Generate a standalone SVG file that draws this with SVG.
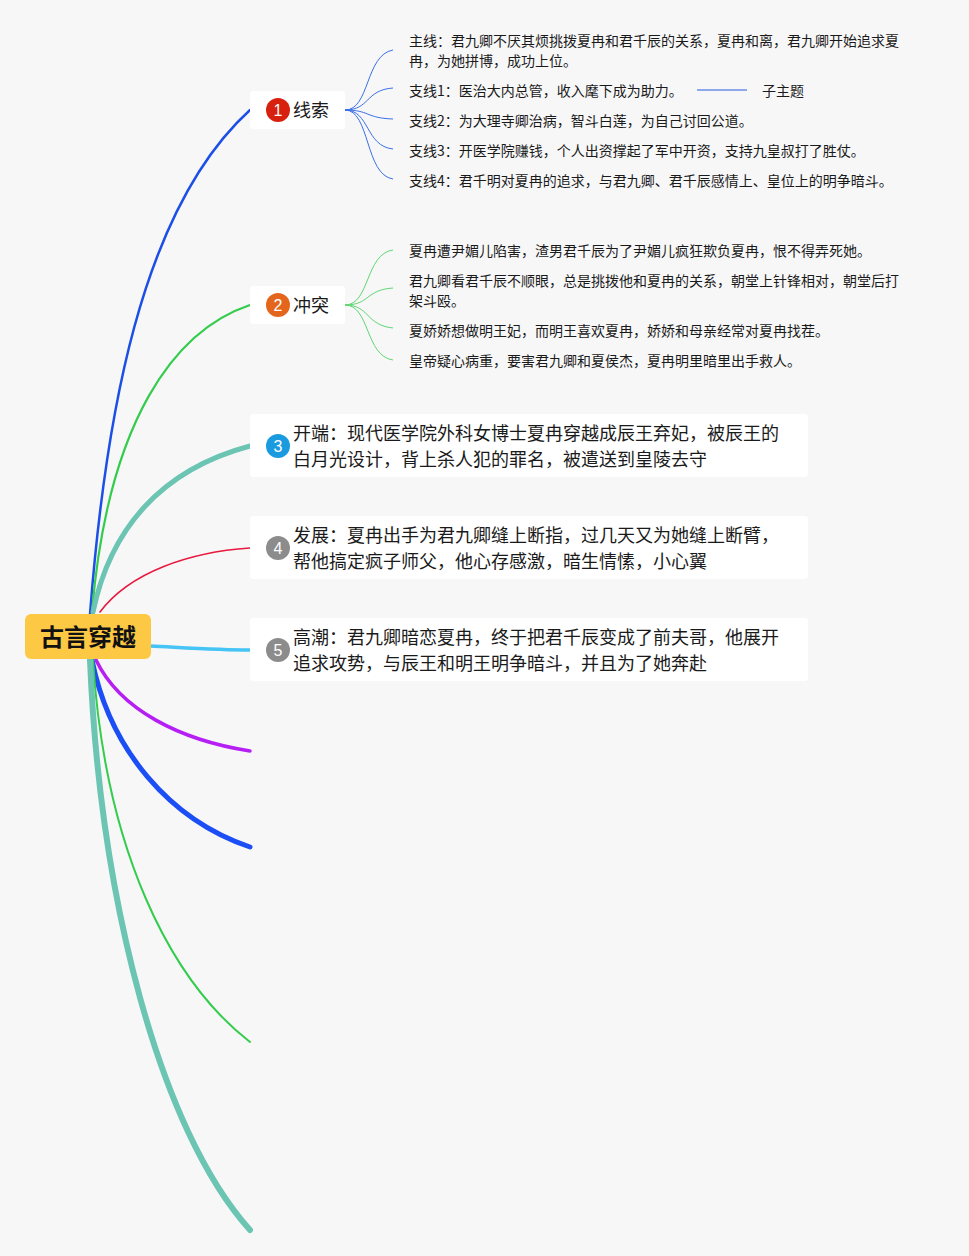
<svg xmlns="http://www.w3.org/2000/svg" width="969" height="1256" viewBox="0 0 969 1256">
<style>
text{font-family:"Noto Sans CJK SC","Liberation Sans",sans-serif;}
.box{fill:#ffffff;}
.t18{font-size:18px;fill:#1a1a1a;}
.t14{font-size:14px;fill:#1a1a1a;}
.num{font-size:16px;fill:#ffffff;text-anchor:middle;font-family:"Liberation Sans","Noto Sans",sans-serif;}
.c{fill:none;stroke-linecap:round;}
</style>
<rect x="0" y="0" width="969" height="1256" fill="#f7f7f8"/>
<g id="connectors">
<path class="c" d="M90 614 C105 420 140 210 250 110" stroke="#1c4fe6" stroke-width="2.5"/>
<path class="c" d="M92 612 C108 420 175 330 250 305" stroke="#33cc4c" stroke-width="2.2"/>
<path class="c" d="M93 612 C110 530 160 470 250 446" stroke="#6bc5b2" stroke-width="5"/>
<path class="c" d="M100 612 C130 572 190 552 250 548" stroke="#e8183e" stroke-width="1.6"/>
<path class="c" d="M150 646 C190 648 220 650 250 650" stroke="#45c4f5" stroke-width="3.5"/>
<path class="c" d="M96 660 C120 710 180 740 250 751" stroke="#b51ff4" stroke-width="3.5"/>
<path class="c" d="M92 660 C110 750 170 820 250 847" stroke="#1b4ef4" stroke-width="5"/>
<path class="c" d="M93 660 C105 850 170 980 250 1042" stroke="#33cc4c" stroke-width="2"/>
<path class="c" d="M90 660 C100 900 160 1130 250 1230" stroke="#6bc5b2" stroke-width="6"/>
<g stroke="#3b6fe6" stroke-width="1" fill="none">
<path d="M345 110 C370 110 365 55 393 50"/>
<path d="M345 110 C370 110 365 90 393 88"/>
<path d="M345 110 C370 110 365 118 393 119"/>
<path d="M345 110 C370 110 365 146 393 149"/>
<path d="M345 110 C370 110 365 175 393 179"/>
</g>
<line x1="697" y1="90" x2="747" y2="90" stroke="#6a8fe8" stroke-width="1.5"/>
<g stroke="#5fd672" stroke-width="1" fill="none">
<path d="M345 305 C370 305 365 254 393 250"/>
<path d="M345 305 C370 305 365 290 393 288"/>
<path d="M345 305 C370 305 365 325 393 328"/>
<path d="M345 305 C370 305 365 356 393 360"/>
</g>
</g>
<g id="root">
<rect x="25" y="614" width="126" height="45" rx="6" fill="#fdc844"/>
<text x="88" y="646" font-size="24" font-weight="bold" text-anchor="middle" fill="#111">古言穿越</text>
</g>
<g id="n1">
<rect class="box" x="250" y="91" width="95" height="38" rx="3"/>
<circle cx="278" cy="110" r="12" fill="#d8200e"/>
<text class="num" x="278" y="116">1</text>
<text class="t18" x="293" y="117">线索</text>
</g>
<g id="n1a"><text class="t14" x="409" y="46">主线：君九卿不厌其烦挑拨夏冉和君千辰的关系，夏冉和离，君九卿开始追求夏</text><text class="t14" x="409" y="66">冉，为她拼博，成功上位。</text></g>
<g id="n1b"><text class="t14" x="409" y="96">支线1：医治大内总管，收入麾下成为助力。</text></g>
<g id="n1b1"><text class="t14" x="762" y="96">子主题</text></g>
<g id="n1c"><text class="t14" x="409" y="126">支线2：为大理寺卿治病，智斗白莲，为自己讨回公道。</text></g>
<g id="n1d"><text class="t14" x="409" y="156">支线3：开医学院赚钱，个人出资撑起了军中开资，支持九皇叔打了胜仗。</text></g>
<g id="n1e"><text class="t14" x="409" y="186">支线4：君千明对夏冉的追求，与君九卿、君千辰感情上、皇位上的明争暗斗。</text></g>
<g id="n2">
<rect class="box" x="250" y="286" width="95" height="38" rx="3"/>
<circle cx="278" cy="305" r="12" fill="#e4661c"/>
<text class="num" x="278" y="311">2</text>
<text class="t18" x="293" y="312">冲突</text>
</g>
<g id="n2a"><text class="t14" x="409" y="256">夏冉遭尹媚儿陷害，渣男君千辰为了尹媚儿疯狂欺负夏冉，恨不得弄死她。</text></g>
<g id="n2b"><text class="t14" x="409" y="286">君九卿看君千辰不顺眼，总是挑拨他和夏冉的关系，朝堂上针锋相对，朝堂后打</text><text class="t14" x="409" y="306">架斗殴。</text></g>
<g id="n2c"><text class="t14" x="409" y="336">夏娇娇想做明王妃，而明王喜欢夏冉，娇娇和母亲经常对夏冉找茬。</text></g>
<g id="n2d"><text class="t14" x="409" y="366">皇帝疑心病重，要害君九卿和夏侯杰，夏冉明里暗里出手救人。</text></g>
<g id="n3">
<rect class="box" x="250" y="414" width="558" height="63" rx="3"/>
<circle cx="278" cy="446" r="12" fill="#1a9be0"/>
<text class="num" x="278" y="452">3</text>
<text class="t18" x="293" y="440">开端：现代医学院外科女博士夏冉穿越成辰王弃妃，被辰王的</text>
<text class="t18" x="293" y="466">白月光设计，背上杀人犯的罪名，被遣送到皇陵去守</text>
</g>
<g id="n4">
<rect class="box" x="250" y="516" width="558" height="63" rx="3"/>
<circle cx="278" cy="548" r="12" fill="#8c8c8c"/>
<text class="num" x="278" y="554">4</text>
<text class="t18" x="293" y="542">发展：夏冉出手为君九卿缝上断指，过几天又为她缝上断臂，</text>
<text class="t18" x="293" y="568">帮他搞定疯子师父，他心存感激，暗生情愫，小心翼</text>
</g>
<g id="n5">
<rect class="box" x="250" y="618" width="558" height="63" rx="3"/>
<circle cx="278" cy="650" r="12" fill="#8c8c8c"/>
<text class="num" x="278" y="656">5</text>
<text class="t18" x="293" y="644">高潮：君九卿暗恋夏冉，终于把君千辰变成了前夫哥，他展开</text>
<text class="t18" x="293" y="670">追求攻势，与辰王和明王明争暗斗，并且为了她奔赴</text>
</g>
</svg>
